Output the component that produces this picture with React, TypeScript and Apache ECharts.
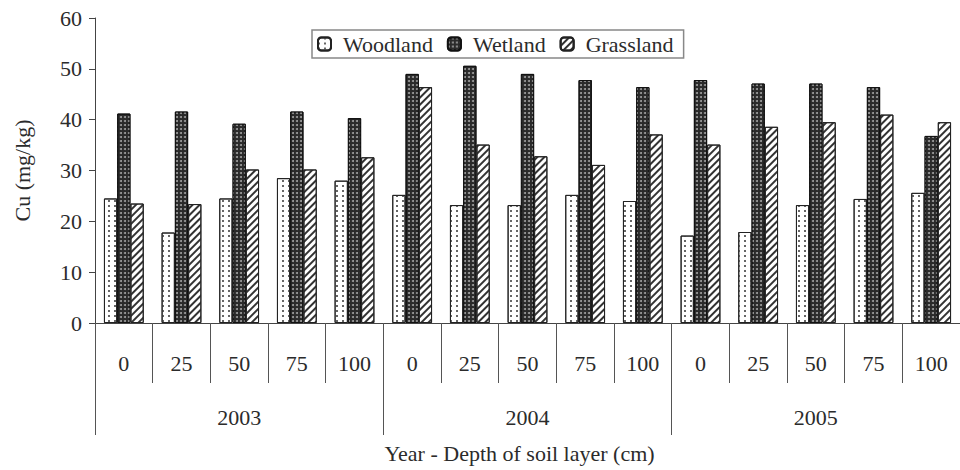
import React, { useEffect, useRef } from "react";
import * as echarts from "echarts";

const depths = ["0", "25", "50", "75", "100", "0", "25", "50", "75", "100", "0", "25", "50", "75", "100"];
const years = ["2003", "2004", "2005"];
const woodland = [24.5, 17.8, 24.5, 28.5, 28.0, 25.2, 23.2, 23.2, 25.2, 24.0, 17.2, 17.9, 23.2, 24.4, 25.6];
const wetland = [41.2, 41.6, 39.2, 41.6, 40.3, 49.0, 50.6, 49.0, 47.8, 46.4, 47.8, 47.1, 47.1, 46.4, 36.8];
const grassland = [23.5, 23.4, 30.2, 30.2, 32.6, 46.4, 35.1, 32.8, 31.1, 37.1, 35.1, 38.6, 39.5, 41.0, 39.5];

const FONT = "'Liberation Serif', 'Times New Roman', serif";
const INK = "#2b2b2b";
const FS = 22;

export default function App() {
  const ref = useRef<HTMLDivElement>(null);

  useEffect(() => {
    if (!ref.current) return;
    const chart = echarts.init(ref.current, null, { renderer: "svg" });

    const barBase = {
      type: "bar" as const,
      barGap: "0%",
      barCategoryGap: "31%",
      xAxisIndex: 0,
    };

    chart.setOption({
      animation: false,
      backgroundColor: "#ffffff",
      textStyle: { fontFamily: FONT, color: INK },
      grid: { left: 95, right: 0, top: 18, bottom: 147, containLabel: false },
      legend: {
        top: 30,
        left: 312,
        itemWidth: 13,
        itemHeight: 13,
        itemGap: 14,
        padding: [3, 10, 3, 5],
        borderColor: "#888",
        borderWidth: 1.5,
        backgroundColor: "#fff",
        textStyle: { fontFamily: FONT, fontSize: FS, color: INK, padding: [0, 0, 0, 7] },
        data: ["Woodland", "Wetland", "Grassland"],
      },
      xAxis: [
        {
          type: "category",
          data: depths,
          position: "bottom",
          axisLine: { show: true, lineStyle: { color: "#444", width: 1 } },
          axisTick: { show: true, interval: 0, length: 60, lineStyle: { color: "#555" } },
          axisLabel: { interval: 0, margin: 29, fontFamily: FONT, fontSize: FS, color: INK },
          splitLine: { show: false },
        },
        {
          type: "category",
          data: years,
          position: "bottom",
          axisLine: { show: false },
          axisTick: { show: true, interval: 0, length: 112, lineStyle: { color: "#555" } },
          axisLabel: { interval: 0, margin: 83, fontFamily: FONT, fontSize: FS, color: INK },
          splitLine: { show: false },
          name: "Year - Depth of soil layer (cm)",
          nameLocation: "middle",
          nameGap: 119,
          nameTextStyle: { fontFamily: FONT, fontSize: FS, color: INK, padding: [0, 16, 0, 0] },
        },
      ],
      yAxis: {
        type: "value",
        min: 0,
        max: 60,
        interval: 10,
        name: "Cu (mg/kg)",
        nameLocation: "middle",
        nameGap: 62,
        nameTextStyle: { fontFamily: FONT, fontSize: FS, color: INK },
        axisLine: { show: true, lineStyle: { color: "#444", width: 1 } },
        axisTick: { show: true, length: 6, lineStyle: { color: "#444" } },
        axisLabel: { margin: 13, fontFamily: FONT, fontSize: FS, color: INK },
        splitLine: { show: false },
      },
      series: [
        {
          ...barBase,
          name: "Woodland",
          data: woodland,
          itemStyle: {
            color: "#ffffff",
            borderColor: "#222",
            borderWidth: 1,
            decal: {
              symbol: "rect",
              symbolSize: 1,
              color: "#666",
              dashArrayX: [1.5, 3.5],
              dashArrayY: [1.5, 3],
              rotation: 0,
            },
          },
        },
        {
          ...barBase,
          name: "Wetland",
          data: wetland,
          itemStyle: {
            color: "#2a2a2a",
            borderColor: "#111",
            borderWidth: 1,
            decal: {
              symbol: "circle",
              symbolSize: 1,
              color: "#a0a0a0",
              dashArrayX: [2, 2],
              dashArrayY: [2, 2],
              rotation: 0,
            },
          },
        },
        {
          ...barBase,
          name: "Grassland",
          data: grassland,
          itemStyle: {
            color: "#ffffff",
            borderColor: "#222",
            borderWidth: 1,
            decal: {
              symbol: "rect",
              symbolSize: 1,
              color: "#333",
              dashArrayX: [1, 0],
              dashArrayY: [1.3, 2.4],
              rotation: -Math.PI / 4,
            },
          },
        },
      ],
    });

    return () => chart.dispose();
  }, []);

  return (
    <div
      ref={ref}
      style={{ position: "fixed", left: 0, top: 0, width: 960, height: 470, background: "#fff" }}
    />
  );
}
